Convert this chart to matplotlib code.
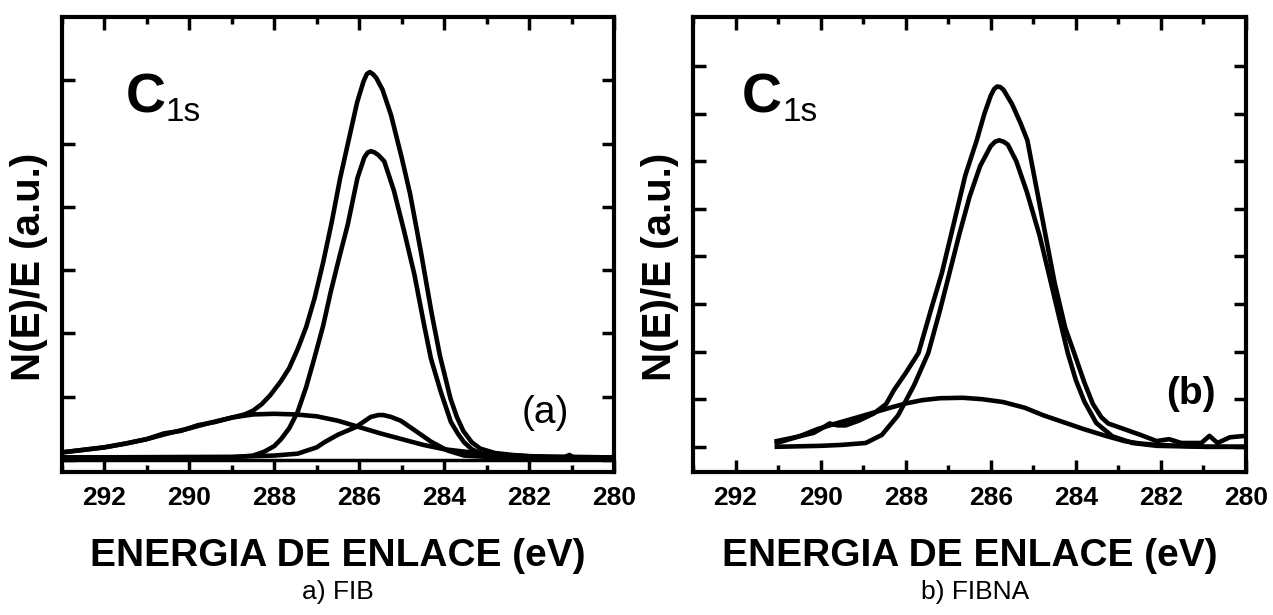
import matplotlib
matplotlib.use('Agg')
import matplotlib.pyplot as plt
from matplotlib.ticker import MultipleLocator

plt.rcParams['font.family'] = ['Liberation Sans', 'DejaVu Sans']

# ---- panel a) FIB ----
a_env_x = [293.0, 292.5, 292.0, 291.5, 291.0, 290.6, 290.2, 289.8, 289.4, 289.0, 288.7, 288.5, 288.3,
           288.1, 287.85, 287.65, 287.45, 287.25, 287.05, 286.85, 286.65, 286.45, 286.25, 286.05, 285.9,
           285.82, 285.75, 285.68, 285.6, 285.45, 285.25, 285.0, 284.8, 284.55, 284.3, 284.1, 283.85,
           283.7, 283.55, 283.35, 283.15, 282.8, 282.4, 282.0, 281.5, 281.2, 281.05, 280.9, 280.6,
           280.3, 280.0]
a_env_y = [0.12, 0.16, 0.20, 0.26, 0.33, 0.42, 0.46, 0.55, 0.60, 0.67, 0.72, 0.78, 0.88,
           1.02, 1.24, 1.45, 1.75, 2.10, 2.56, 3.12, 3.75, 4.45, 5.05, 5.65, 5.98,
           6.10, 6.13, 6.10, 6.04, 5.85, 5.45, 4.78, 4.20, 3.30, 2.34, 1.65, 0.97,
           0.68, 0.46, 0.28, 0.18, 0.11, 0.08, 0.06, 0.04, 0.03, 0.08, 0.02, 0.04,
           0.03, 0.0]

a_main_x = [293.0, 290.0, 289.0, 288.5, 288.24, 288.0, 287.84, 287.65, 287.45, 287.25, 287.06, 286.85,
            286.67, 286.47, 286.27, 286.04, 285.88, 285.8, 285.72, 285.64, 285.55, 285.41, 285.18, 284.94,
            284.7, 284.47, 284.31, 284.08, 283.84, 283.68, 283.53, 283.35, 283.14, 282.7, 282.0, 281.0,
            280.0]
a_main_y = [0.04, 0.04, 0.04, 0.07, 0.13, 0.22, 0.33, 0.50, 0.76, 1.15, 1.60, 2.12,
            2.66, 3.20, 3.72, 4.46, 4.78, 4.86, 4.88, 4.86, 4.82, 4.72, 4.25, 3.61,
            2.93, 2.13, 1.60, 1.08, 0.60, 0.42, 0.28, 0.17, 0.10, 0.05, 0.04, 0.04,
            0.04]

a_small_x = [293.0, 289.0, 288.0, 287.45, 287.0, 286.82, 286.5, 286.08, 285.73, 285.55, 285.43, 285.25,
             285.02, 284.63, 284.31, 283.92, 283.53, 283.0, 282.0, 280.0]
a_small_y = [0.04, 0.05, 0.07, 0.10, 0.20, 0.28, 0.40, 0.52, 0.68, 0.71, 0.71, 0.68,
             0.62, 0.44, 0.29, 0.15, 0.07, 0.05, 0.04, 0.04]

a_broad_x = [293.0, 292.5, 292.0, 291.5, 291.0, 290.5, 290.0, 289.5, 289.0, 288.5, 288.0, 287.5,
             287.0, 286.5, 286.0, 285.5, 285.0, 284.5, 284.0, 283.5, 283.0, 282.0, 281.0, 280.0]
a_broad_y = [0.12, 0.16, 0.20, 0.26, 0.33, 0.42, 0.50, 0.59, 0.67, 0.72, 0.73, 0.72,
             0.69, 0.62, 0.52, 0.42, 0.33, 0.24, 0.17, 0.13, 0.09, 0.06, 0.05, 0.04]

# ---- panel b) FIBNA ----
b_env_x = [291.03, 290.6, 290.17, 289.95, 289.79, 289.6, 289.41, 289.1, 288.75, 288.46, 288.27, 288.0,
           287.7, 287.4, 287.15, 286.94, 286.6, 286.33, 286.15, 286.0, 285.92, 285.85, 285.78, 285.7,
           285.5, 285.3, 285.14, 284.95, 284.71, 284.5, 284.25, 284.04, 283.8, 283.6, 283.4, 283.24,
           282.86, 282.48, 282.1, 281.81, 281.52, 281.05, 280.86, 280.67, 280.38, 280.0]
b_env_y = [0.12, 0.20, 0.29, 0.40, 0.49, 0.45, 0.45, 0.55, 0.70, 0.90, 1.20, 1.55,
           1.97, 2.90, 3.65, 4.43, 5.70, 6.44, 7.00, 7.38, 7.52, 7.57, 7.56, 7.50,
           7.20, 6.80, 6.44, 5.55, 4.43, 3.45, 2.50, 1.97, 1.35, 0.90, 0.62, 0.49,
           0.37, 0.25, 0.12, 0.16, 0.08, 0.08, 0.23, 0.08, 0.20, 0.23]

b_main_x = [291.03, 290.0, 289.5, 288.94, 288.56, 288.18, 287.8, 287.47, 287.2, 287.0, 286.75, 286.5,
            286.25, 286.0, 285.9, 285.8, 285.7, 285.6, 285.4, 285.15, 284.85, 284.6, 284.4, 284.19,
            284.0, 283.8, 283.52, 283.14, 282.67, 282.1, 281.0, 280.0]
b_main_y = [0.0, 0.02, 0.04, 0.08, 0.25, 0.66, 1.30, 1.97, 2.85, 3.55, 4.43, 5.25,
            5.90, 6.32, 6.41, 6.44, 6.41, 6.35, 6.00, 5.35, 4.43, 3.50, 2.75, 1.97,
            1.40, 0.95, 0.50, 0.22, 0.08, 0.02, 0.0, 0.0]

b_broad_x = [291.03, 290.5, 290.08, 289.6, 289.13, 288.75, 288.37, 288.0, 287.61, 287.2, 286.66, 286.2,
             285.71, 285.2, 284.76, 284.3, 283.81, 283.3, 282.86, 282.5, 282.1, 281.5, 280.95, 280.0]
b_broad_y = [0.08, 0.22, 0.37, 0.50, 0.62, 0.72, 0.82, 0.91, 0.98, 1.02, 1.03, 1.00,
             0.94, 0.82, 0.66, 0.52, 0.37, 0.23, 0.12, 0.07, 0.04, 0.02, 0.0, 0.0]

xticks = [292, 290, 288, 286, 284, 282, 280]
xlabel = 'ENERGIA DE ENLACE (eV)'
ylabel = 'N(E)/E (a.u.)'


def style_axes(ax, ymin, ymax, nticks):
    ax.set_xlim(293, 280)
    ax.set_ylim(ymin, ymax)
    ax.set_xticks(xticks)
    ax.xaxis.set_minor_locator(MultipleLocator(1))
    ax.set_yticks(range(nticks))
    ax.set_yticklabels([])
    ax.tick_params(which='both', direction='in', top=True, right=True, width=2.5)
    ax.tick_params(which='major', length=9, pad=10, labelsize=19)
    ax.tick_params(which='minor', length=5)
    for lab in ax.get_xticklabels():
        lab.set_fontweight('bold')
    for sp in ax.spines.values():
        sp.set_linewidth(3)
    ax.set_xlabel(xlabel, fontsize=28, fontweight='bold', labelpad=20)
    ax.set_ylabel(ylabel, fontsize=29, fontweight='bold')
    ax.yaxis.set_label_coords(-0.026, 0.45)


fig = plt.figure(figsize=(12.73, 6.15), dpi=100)
ax1 = fig.add_axes([0.0487, 0.2325, 0.4336, 0.7398])
ax2 = fig.add_axes([0.5444, 0.2325, 0.4344, 0.7398])

lw = 3.3
ax1.axhline(0, color='black', lw=2.5)
ax1.plot(a_broad_x, a_broad_y, color='black', lw=lw)
ax1.plot(a_small_x, a_small_y, color='black', lw=lw)
ax1.plot(a_main_x, a_main_y, color='black', lw=lw)
ax1.plot(a_env_x, a_env_y, color='black', lw=lw)
style_axes(ax1, -0.19, 7.0, 7)
ax1.text(0.116, 0.79, 'C', transform=ax1.transAxes, fontsize=40, fontweight='bold')
ax1.text(0.188, 0.772, '1s', transform=ax1.transAxes, fontsize=24)
ax1.text(0.833, 0.13, '(a)', transform=ax1.transAxes, fontsize=28, va='center')

ax2.plot(b_broad_x, b_broad_y, color='black', lw=lw)
ax2.plot(b_main_x, b_main_y, color='black', lw=lw)
ax2.plot(b_env_x, b_env_y, color='black', lw=lw)
style_axes(ax2, -0.53, 9.03, 9)
ax2.text(0.089, 0.79, 'C', transform=ax2.transAxes, fontsize=40, fontweight='bold')
ax2.text(0.161, 0.772, '1s', transform=ax2.transAxes, fontsize=24)
ax2.text(0.855, 0.172, '(b)', transform=ax2.transAxes, fontsize=28, fontweight='bold', va='center')

fig.text(338 / 1273, 1 - 592 / 615, 'a) FIB', fontsize=19, ha='center', va='center')
fig.text(975 / 1273, 1 - 592 / 615, 'b) FIBNA', fontsize=19, ha='center', va='center')

plt.savefig('out.png', dpi=100)
